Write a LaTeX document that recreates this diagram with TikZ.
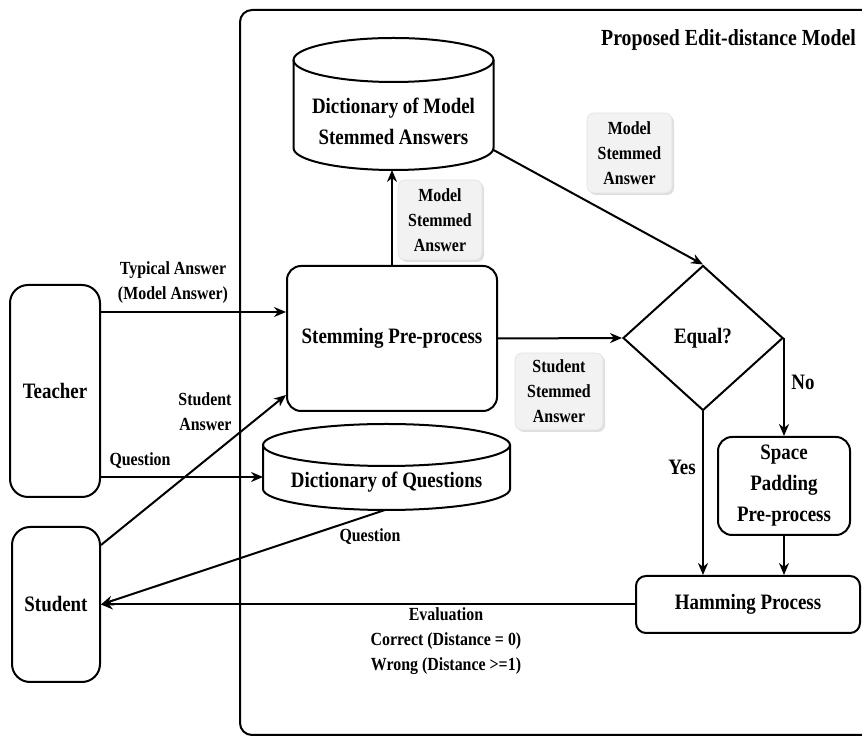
\documentclass[tikz,border=0pt]{standalone}
\usepackage{fontspec}
\setmainfont{Liberation Serif}[FakeStretch=0.86]
\usetikzlibrary{shapes.geometric,arrows.meta,shadows,calc}
\newcommand\myMainFont{\fontsize{22}{31}\selectfont\bfseries}
\newcommand\myTagFont{\fontsize{18.5}{25}\selectfont\bfseries}
\newcommand\myTitleFont{\fontsize{23}{27}\selectfont\bfseries}
\begin{document}
\begin{tikzpicture}[x=1pt,y=1pt,
  box/.style={draw, line width=2pt, rounded corners=14pt, align=center, font=\myMainFont, inner sep=0pt},
  tag/.style={fill=gray!10, draw=gray!22, line width=0.6pt, rounded corners=7pt,
    drop shadow={opacity=0.25, shadow xshift=2pt, shadow yshift=-2pt}, align=center, font=\myTagFont, inner sep=0pt},
  arr/.style={line width=2pt, -{Stealth[length=12pt,width=10pt]}},
  lbl/.style={align=center, font=\myTagFont, inner sep=0pt},
  cyl/.style={line width=2pt}
]
\useasboundingbox (0,0) rectangle (862,736);
\clip (0,0) rectangle (862,736);
% outer frame
\draw[line width=2pt, rounded corners=12pt] (240,1) rectangle (880,726);
\node[anchor=east, font=\myTitleFont, inner sep=0pt] (title) at (856,696) {Proposed Edit-distance Model};

% cylinder: dictionary of model stemmed answers
\draw[cyl, fill=white] (293.5,676) -- (293.5,588) arc[start angle=180, end angle=360, x radius=100, y radius=22] -- (493.5,676);
\draw[cyl] (393.5,676) ellipse [x radius=100, y radius=22];
\node[font=\myMainFont, align=center, inner sep=0pt] (dma) at (393.5,615) {Dictionary of Model\\Stemmed Answers};
\coordinate (dmabot) at (392,566);
\coordinate (dmaright) at (493.5,586);

% cylinder: dictionary of questions
\draw[cyl, fill=white] (263,291) -- (263,247) arc[start angle=180, end angle=360, x radius=123.5, y radius=21] -- (510,291);
\draw[cyl] (386.5,291) ellipse [x radius=123.5, y radius=21];
\node[font=\myMainFont, inner sep=0pt] (dq) at (386.5,254) {Dictionary of Questions};
\coordinate (dqleft) at (263,259);
\coordinate (dqbot) at (385,226);

% boxes
\node[box, minimum width=210, minimum height=145] (stem) at (392,397.5) {Stemming Pre-process};
\node[diamond, draw, line width=2pt, minimum width=160, minimum height=145, inner sep=0pt, font=\myMainFont] (eq) at (703,398) {Equal?};
\node[box, minimum width=132, minimum height=98] (sp) at (784,250) {Space\\Padding\\Pre-process};
\node[box, minimum width=224, minimum height=57, rounded corners=10pt] (ham) at (748,131.5) {Hamming Process};
\node[box, minimum width=90, minimum height=212, rounded corners=18pt] (teacher) at (55,345) {Teacher};
\node[box, minimum width=88, minimum height=155, rounded corners=18pt] (student) at (56,131.5) {Student};

% tags
\node[tag, minimum width=84, minimum height=80] (tag1) at (440,516) {Model\\Stemmed\\Answer};
\node[tag, minimum width=85, minimum height=80] (tag2) at (629.5,583) {Model\\Stemmed\\Answer};
\node[tag, minimum width=88, minimum height=77] (tag3) at (559,344.5) {Student\\Stemmed\\Answer};

% connectors
\coordinate (t1) at ([yshift=79pt]teacher.east);
\draw[arr] (t1) -- (t1 -| stem.west);
\coordinate (t2) at ([yshift=-86pt]teacher.east);
\draw[arr] (t2) -- (dqleft);
\coordinate (s1) at ([yshift=59.5pt]student.east);
\coordinate (stemin) at ([yshift=-56.5pt]stem.west);
\draw[arr] (s1) -- (stemin);
\draw[arr] (dqbot) -- (student.east);
\draw[arr] (ham.west) -- (student.east);
\draw[arr] (stem.north) -- (dmabot);
\draw[arr] (dmaright) -- (eq.north);
\draw[arr] (stem.east) -- (eq.west);
\draw[arr] (eq.east) -- (eq.east |- sp.north);
\draw[arr] (eq.south) -- (eq.south |- ham.north);
\draw[arr] (sp.south) -- (sp.south |- ham.north);

% labels
\node[lbl] (lta) at (173,453) {Typical Answer\\(Model Answer)};
\node[lbl] (lq1) at (140,275) {Question};
\node[lbl, align=right] (lsa) at (205,324) {Student\\Answer};
\node[lbl] (lq2) at (370,199) {Question};
\node[font=\myMainFont, inner sep=0pt] (lno) at (803,354) {No};
\node[font=\myMainFont, inner sep=0pt] (lyes) at (682,269) {Yes};
\node[lbl] (leval) at (446,95) {Evaluation\\Correct (Distance = 0)\\Wrong (Distance >=1)};
\end{tikzpicture}
\end{document}
